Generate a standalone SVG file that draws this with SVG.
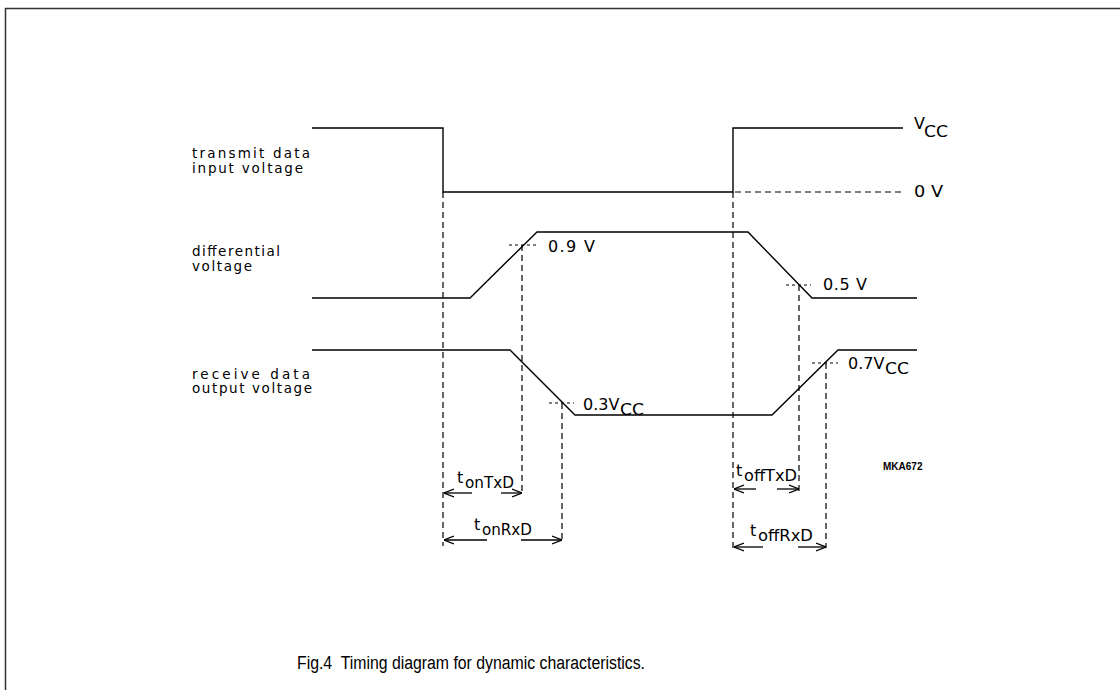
<svg xmlns="http://www.w3.org/2000/svg" width="1120" height="690" viewBox="0 0 1120 690">
<style>
.sig{fill:none;stroke:#000;stroke-width:1.4}
.dash{fill:none;stroke:#000;stroke-width:1.2;stroke-dasharray:6 4}
.dot{fill:none;stroke:#000;stroke-width:1.2;stroke-dasharray:3 3}
.arr{fill:none;stroke:#000;stroke-width:1.3}
.lbl{font-family:"DejaVu Sans",sans-serif;font-size:13.5px;fill:#000}
.val{font-family:"DejaVu Sans",sans-serif;font-size:16px;fill:#000}
.sub{font-family:"DejaVu Sans",sans-serif;font-size:15px;fill:#000}
.cap{font-family:"Liberation Sans",Arial,sans-serif;font-size:18px;fill:#000;white-space:pre}
</style>
<defs>
<marker id="ah" viewBox="0 0 10 10" refX="10" refY="5" markerWidth="10" markerHeight="10" markerUnits="userSpaceOnUse" orient="auto-start-reverse">
<path d="M0,1 L10,5 L0,9" fill="none" stroke="#000" stroke-width="1.2"/>
</marker>
</defs>
<rect width="1120" height="690" fill="#fff"/>
<path d="M5.5,690 V8.5 H1120" fill="none" stroke="#333" stroke-width="1.5"/>

<g id="signals">
<path class="sig" d="M312,128 H443 V192 H733 V128 H903"/>
<path class="sig" d="M312,298 H470 L537,232 H748 L812,298 H917"/>
<path class="sig" d="M312,350 H510 L575,415 H772 L838,350 H917"/>
</g>

<g id="connectors">
<path class="dash" d="M735,192 H905"/>
<path class="dash" d="M443,192 V546"/>
<path class="dash" d="M733,192 V552"/>
<path class="dot" d="M509,245 H536"/>
<path class="dash" d="M522,245 V494"/>
<path class="dot" d="M786,285 H811"/>
<path class="dash" d="M799,285 V494"/>
<path class="dot" d="M549,403 H574"/>
<path class="dash" d="M562,403 V542"/>
<path class="dot" d="M812,363 H838"/>
<path class="dash" d="M826,363 V548"/>
<path class="arr" d="M472,493 H444" marker-end="url(#ah)"/>
<path class="arr" d="M501,493 H522" marker-end="url(#ah)"/>
<path class="arr" d="M487,540 H444" marker-end="url(#ah)"/>
<path class="arr" d="M521,540 H562" marker-end="url(#ah)"/>
<path class="arr" d="M756,489 H734" marker-end="url(#ah)"/>
<path class="arr" d="M777,489 H799" marker-end="url(#ah)"/>
<path class="arr" d="M763,547 H734" marker-end="url(#ah)"/>
<path class="arr" d="M798,547 H826" marker-end="url(#ah)"/>
</g>

<g id="labels">
<text class="lbl" x="192" y="158" textLength="118" lengthAdjust="spacing">transmit data</text>
<text class="lbl" x="192" y="173" textLength="111" lengthAdjust="spacing">input voltage</text>
<text class="lbl" x="192" y="256" textLength="88" lengthAdjust="spacing">differential</text>
<text class="lbl" x="192" y="271" textLength="60" lengthAdjust="spacing">voltage</text>
<text class="lbl" x="192" y="379" textLength="118" lengthAdjust="spacing">receive data</text>
<text class="lbl" x="192" y="393" textLength="120" lengthAdjust="spacing">output voltage</text>
</g>

<g id="values">
<text class="val" x="914" y="129">V</text><text class="sub" x="924" y="137" textLength="24" lengthAdjust="spacingAndGlyphs">CC</text>
<text class="val" x="914" y="197" textLength="29" lengthAdjust="spacingAndGlyphs">0 V</text>
<text class="val" x="548" y="252" textLength="47" lengthAdjust="spacing">0.9  V</text>
<text class="val" x="823" y="290" textLength="44" lengthAdjust="spacing">0.5  V</text>
<text class="val" x="583" y="410">0.3V</text><text class="sub" x="620" y="415" textLength="24" lengthAdjust="spacingAndGlyphs">CC</text>
<text class="val" x="848" y="369">0.7V</text><text class="sub" x="885" y="374" textLength="24" lengthAdjust="spacingAndGlyphs">CC</text>
</g>

<g id="timings">
<text class="val" x="457" y="483">t</text><text class="sub" x="465" y="488" textLength="49" lengthAdjust="spacingAndGlyphs">onTxD</text>
<text class="val" x="474" y="530">t</text><text class="sub" x="482" y="535" textLength="50" lengthAdjust="spacingAndGlyphs">onRxD</text>
<text class="val" x="736" y="476">t</text><text class="sub" x="744" y="481" textLength="53" lengthAdjust="spacingAndGlyphs">offTxD</text>
<text class="val" x="750" y="536">t</text><text class="sub" x="758" y="541" textLength="55" lengthAdjust="spacingAndGlyphs">offRxD</text>
</g>

<text x="883" y="470" font-family="Liberation Sans, Arial, sans-serif" font-size="10" font-weight="bold" fill="#000">MKA672</text>
<text class="cap" x="297" y="669" textLength="348" lengthAdjust="spacingAndGlyphs">Fig.4  Timing diagram for dynamic characteristics.</text>
</svg>
